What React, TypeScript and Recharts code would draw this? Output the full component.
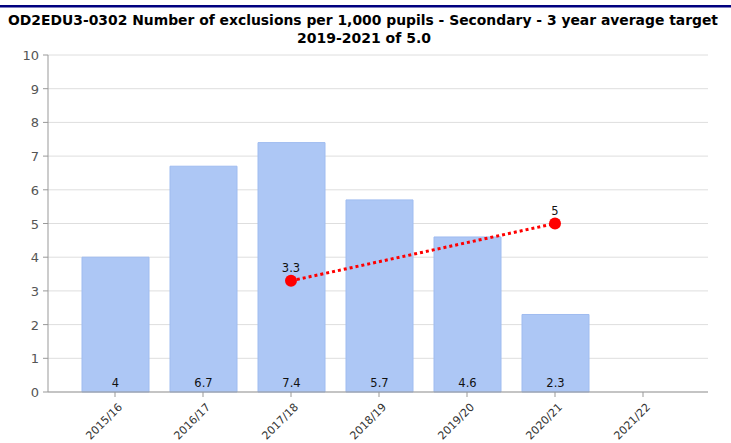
import React from "react";
import {
  ComposedChart,
  Bar,
  Line,
  XAxis,
  YAxis,
  CartesianGrid,
  LabelList,
} from "recharts";

const categories = ["2015/16", "2016/17", "2017/18", "2018/19", "2019/20", "2020/21", "2021/22"];
const exclusions: (number | null)[] = [4, 6.7, 7.4, 5.7, 4.6, 2.3, null];
const target: (number | null)[] = [null, null, 3.3, null, null, 5, null];
const yTicks = [0, 1, 2, 3, 4, 5, 6, 7, 8, 9, 10];
const titleLine1 = "OD2EDU3-0302 Number of exclusions per 1,000 pupils - Secondary - 3 year average target";
const titleLine2 = "2019-2021 of 5.0";

const data = categories.map((c, i) => ({
  name: c,
  value: exclusions[i],
  target: target[i],
}));

const FONT = "'DejaVu Sans', Verdana, sans-serif";

const XTick = (props: any) => {
  const { x, y, payload } = props;
  return (
    <g transform={`translate(${x + 5},${y + 6})`}>
      <text
        transform="rotate(-45)"
        textAnchor="end"
        fontSize={11}
        fontFamily={FONT}
        fill="#333"
        dy={4}
      >
        {payload.value}
      </text>
    </g>
  );
};

const YTick = (props: any) => {
  const { x, y, payload } = props;
  return (
    <text x={x - 2} y={y + 5} textAnchor="end" fontSize={13} fontFamily={FONT} fill="#555">
      {payload.value}
    </text>
  );
};

const BarLabel = (props: any) => {
  const { x, y, width, height, value } = props;
  if (value == null) return null;
  return (
    <text
      x={x + width / 2}
      y={y + height - 5}
      textAnchor="middle"
      fontSize={11.5}
      fontFamily={FONT}
      fill="#111"
    >
      {value}
    </text>
  );
};

const LineLabel = (props: any) => {
  const { x, y, value } = props;
  if (value == null) return null;
  return (
    <text x={x} y={y - 9} textAnchor="middle" fontSize={11.5} fontFamily={FONT} fill="#111">
      {value}
    </text>
  );
};

export default function App() {
  return (
    <div style={{ position: "absolute", left: 0, top: 0, width: 731, height: 443, background: "#fff" }}>
      <svg
        width={731}
        height={50}
        style={{ position: "absolute", left: 0, top: 0 }}
      >
        <rect x={0} y={5} width={731} height={2.5} fill="#00007f" />
        <text
          x={8}
          y={25}
          fontSize={14}
          fontWeight="bold"
          fontFamily={FONT}
          fill="#000"
          textLength={710}
          lengthAdjust="spacingAndGlyphs"
        >
          {titleLine1}
        </text>
        <text
          x={364}
          y={43}
          fontSize={14}
          fontWeight="bold"
          fontFamily={FONT}
          fill="#000"
          textAnchor="middle"
          textLength={134}
          lengthAdjust="spacingAndGlyphs"
        >
          {titleLine2}
        </text>
      </svg>
      <div style={{ position: "absolute", left: 0, top: 0 }}>
        <ComposedChart
          width={731}
          height={443}
          data={data}
          margin={{ top: 55, right: 23, left: 0, bottom: 0 }}
          barCategoryGap={20}
        >
          <CartesianGrid vertical={false} stroke="#dedede" />
          <XAxis
            dataKey="name"
            height={51}
            padding={{ left: 23, right: 21 }}
            stroke="#999"
            tickLine={{ stroke: "#999" }}
            tickSize={5}
            tick={<XTick />}
            interval={0}
          />
          <YAxis
            width={48}
            domain={[0, 10]}
            ticks={yTicks}
            stroke="#999"
            tickSize={5}
            tick={<YTick />}
            interval={0}
          />
          <Bar
            dataKey="value"
            fill="#adc7f5"
            stroke="#9fbcf0"
            strokeWidth={1}
            barSize={67}
            isAnimationActive={false}
          >
            <LabelList dataKey="value" content={<BarLabel />} />
          </Bar>
          <Line
            dataKey="target"
            stroke="#ff0000"
            strokeWidth={3}
            strokeDasharray="3 3"
            connectNulls
            dot={{ r: 6, fill: "#ff0000", stroke: "#ff0000", strokeWidth: 0 }}
            isAnimationActive={false}
          >
            <LabelList dataKey="target" content={<LineLabel />} />
          </Line>
        </ComposedChart>
      </div>
    </div>
  );
}
